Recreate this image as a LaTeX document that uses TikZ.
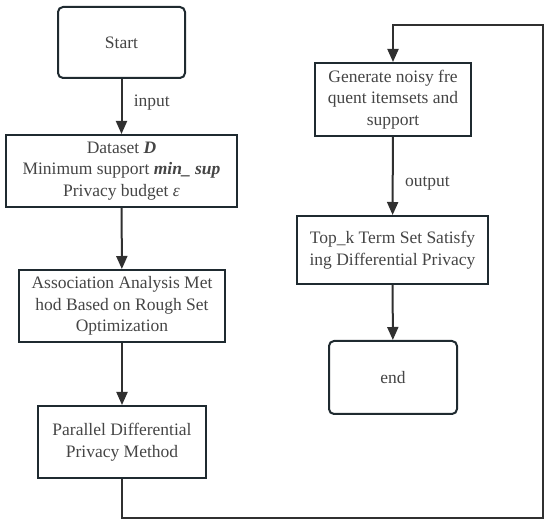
\documentclass[tikz,border=0pt]{standalone}
\usepackage{fontspec}
\setmainfont{Liberation Serif}
\usetikzlibrary{arrows.meta}
\definecolor{boxline}{HTML}{1F2A30}
\definecolor{txt}{HTML}{454545}
\definecolor{arr}{HTML}{303030}
\tikzset{
  box/.style={draw=boxline, line width=2pt, text=txt, align=center, inner sep=0pt, font=\fontsize{17.5}{21.5}\selectfont},
  rbox/.style={box, rounded corners=5pt},
  arrowline/.style={draw=arr, line width=2pt, -{Triangle[length=13pt,width=11pt]}},
  lbl/.style={text=txt, font=\fontsize{17.5}{21.5}\selectfont}
}
\begin{document}
\begin{tikzpicture}[x=1pt,y=-1pt]
\useasboundingbox (0,0) rectangle (550,526);
\node[rbox, minimum width=127pt, minimum height=71pt] (start) at (121.5,42.5) {Start};
\node[box, minimum width=231pt, minimum height=72pt] (data) at (121.5,171) {Dataset \textbf{\textit{D}}\\Minimum support \textbf{\textit{min\_ sup}}\\Privacy budget \textit{ε}};
\node[box, minimum width=206pt, minimum height=72pt] (assoc) at (122,306) {Association Analysis Met\\hod Based on Rough Set\\Optimization};
\node[box, minimum width=168pt, minimum height=72pt] (par) at (122,442) {Parallel Differential\\Privacy Method};
\node[box, minimum width=156pt, minimum height=73pt] (gen) at (393,99.5) {Generate noisy fre\\quent itemsets and\\support};
\node[box, minimum width=191pt, minimum height=68pt] (topk) at (392.5,250) {Top\_k Term Set Satisfy\\ing Differential Privacy};
\node[rbox, minimum width=128pt, minimum height=73pt] (end) at (393,377.5) {end};
\coordinate (c1) at (543,518);
\coordinate (c2) at (543,25);
\draw[arrowline] (start) -- node[lbl, right=8pt, yshift=4pt] (in) {input} (data);
\draw[arrowline] (data) -- (assoc);
\draw[arrowline] (assoc) -- (par);
\draw[arrowline] (par.south) |- (c1) -- (c2) -| (gen.north);
\draw[arrowline] (gen) -- node[lbl, right=8pt, yshift=-7pt] (out) {output} (topk);
\draw[arrowline] (topk) -- (end);
\end{tikzpicture}
\end{document}
